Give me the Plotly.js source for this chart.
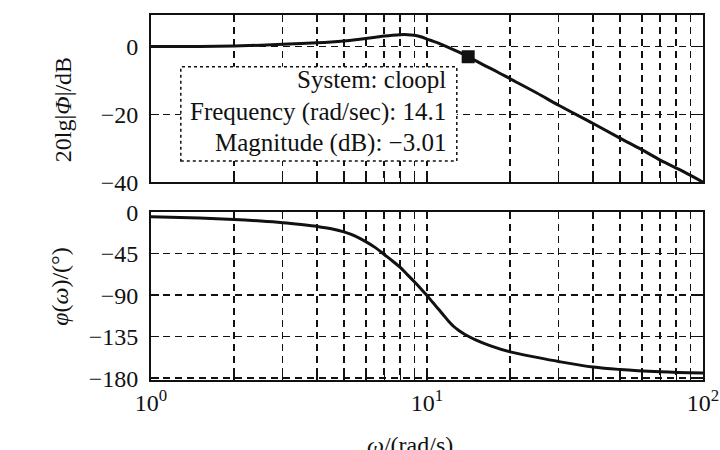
<!DOCTYPE html>
<html>
<head>
<meta charset="utf-8">
<script src="https://cdn.plot.ly/plotly-3.0.1.min.js"></script>
<style>html,body{margin:0;padding:0;background:#fff;}#chart{width:720px;height:450px;}</style>
</head>
<body>
<div id="chart"></div>
<script>
// Frequency samples (rad/s) and magnitude (dB)
const magFreq = [1, 1.5, 2, 2.5, 3, 3.5, 4, 4.5, 5, 5.5, 6, 6.5, 7, 7.5, 8, 8.5, 9, 9.5, 10, 10.5, 11, 12, 13, 14.1, 16, 18, 20, 25, 30, 40, 50, 60, 70, 85, 100];
const magDb   = [0, 0, 0.15, 0.4, 0.65, 0.9, 1.1, 1.35, 1.65, 2.0, 2.4, 2.75, 3.1, 3.35, 3.5, 3.5, 3.3, 2.9, 2.2, 1.6, 1.0, -0.3, -1.6, -3.01, -5.4, -7.5, -9.5, -13.7, -17.3, -22.7, -27, -30.4, -33.5, -36.9, -40];
// Phase (deg)
const phFreq = [1, 1.5, 2, 2.5, 3, 3.5, 4, 4.5, 5, 5.5, 6, 6.5, 7, 7.5, 8, 8.5, 9, 9.5, 10, 10.5, 11, 11.5, 12, 12.5, 13, 13.5, 14, 15, 17, 20, 25, 30, 40, 50, 70, 100];
const phDeg  = [-5, -6.5, -8, -9.7, -11.5, -13.5, -15.5, -18, -21.5, -26, -32, -38.5, -46, -53, -60, -68, -75.5, -83, -90.5, -98, -105, -112, -118.5, -124, -128, -131.3, -134, -138.5, -145, -151.5, -157.5, -162, -168, -170.6, -173, -174.5];
// Data tip
const tipFreq = [14.1];
const tipMag = [-3.01];
const tipLines = ["System: cloopl", "Frequency (rad/sec): 14.1", "Magnitude (dB): \u22123.01"];
// Tick values
const xTicks = [1,2,3,4,5,6,7,8,9,10,20,30,40,50,60,70,80,90,100];
const xTickText = xTicks.map(v => v===1 ? "10<sup>0</sup>" : v===10 ? "10<sup>1</sup>" : v===100 ? "10<sup>2</sup>" : "");
const magTicks = [-40, -20, 0];
const magTickText = ["\u221240", "\u221220", "0"];
const phTicks = [-180, -135, -90, -45, 0];
const phTickText = ["\u2212180", "\u2212135", "\u221290", "\u221245", "0"];

const serif = "Liberation Serif, Times New Roman, serif";
const gridDash = "7px,5px";
const ink = "#111";

const traces = [
  {x: magFreq, y: magDb, xaxis: "x", yaxis: "y", mode: "lines", line: {color: ink, width: 3, shape: "spline", smoothing: 1}, hoverinfo: "skip"},
  {x: tipFreq, y: tipMag, xaxis: "x", yaxis: "y", mode: "markers", marker: {symbol: "square", size: 13, color: ink}, hoverinfo: "skip"},
  {x: phFreq, y: phDeg, xaxis: "x2", yaxis: "y2", mode: "lines", line: {color: ink, width: 3, shape: "spline", smoothing: 1}, hoverinfo: "skip"}
];

const xCommon = {
  type: "log", range: [0, 2], tickmode: "array", tickvals: xTicks, ticktext: xTickText,
  showgrid: true, gridcolor: ink, gridwidth: 1.6, griddash: gridDash,
  showline: true, linecolor: ink, linewidth: 2, mirror: "ticks",
  ticks: "inside", ticklen: 6, tickcolor: ink, tickwidth: 1.5,
  zeroline: false, tickfont: {family: serif, size: 24, color: ink}
};
const yCommon = {
  showgrid: true, gridcolor: ink, gridwidth: 1.6, griddash: gridDash,
  showline: true, linecolor: ink, linewidth: 2, mirror: "ticks",
  ticks: "inside", ticklen: 8, tickcolor: ink, tickwidth: 1.5,
  zeroline: false, tickfont: {family: serif, size: 24, color: ink},
  ticklabelstandoff: 6
};

const annText = (t, y) => ({text: t, xref: "paper", yref: "paper", x: 0.538, y: y, xanchor: "right", yanchor: "middle", showarrow: false, font: {family: serif, size: 25, color: ink}});

const layout = {
  width: 720, height: 450,
  margin: {l: 151, r: 17, t: 15, b: 70},
  paper_bgcolor: "#fff", plot_bgcolor: "#fff",
  showlegend: false,
  xaxis: Object.assign({}, xCommon, {anchor: "y", showticklabels: false, matches: "x2"}),
  yaxis: Object.assign({}, yCommon, {domain: [0.542, 1], range: [-40, 9.3], tickvals: magTicks, ticktext: magTickText}),
  xaxis2: Object.assign({}, xCommon, {anchor: "y2"}),
  yaxis2: Object.assign({}, yCommon, {domain: [0, 0.46], range: [-182, 0], tickvals: phTicks, ticktext: phTickText}),
  shapes: [
    {type: "rect", xref: "paper", yref: "paper", x0: 0.054, x1: 0.554, y0: 0.600, y1: 0.858, fillcolor: "#fff", line: {color: ink, width: 1.5, dash: "dot"}, layer: "above"}
  ],
  annotations: [
    annText(tipLines[0], 0.824),
    annText(tipLines[1], 0.733),
    annText(tipLines[2], 0.649),
    {text: "20lg|<i>Φ</i>|/dB", xref: "paper", yref: "paper", x: -0.159, y: 0.74, xanchor: "center", yanchor: "middle", textangle: -90, showarrow: false, font: {family: serif, size: 24, color: ink}},
    {text: "<i>φ</i>(<i>ω</i>)/(°)", xref: "paper", yref: "paper", x: -0.165, y: 0.255, xanchor: "center", yanchor: "middle", textangle: -90, showarrow: false, font: {family: serif, size: 24, color: ink}},
    {text: "<i>ω</i>/(rad/s)", xref: "paper", yref: "paper", x: 0.469, y: -0.137, xanchor: "center", yanchor: "top", showarrow: false, font: {family: serif, size: 24, color: ink}}
  ]
};

Plotly.newPlot("chart", traces, layout, {staticPlot: true, displayModeBar: false});
</script>
</body>
</html>
